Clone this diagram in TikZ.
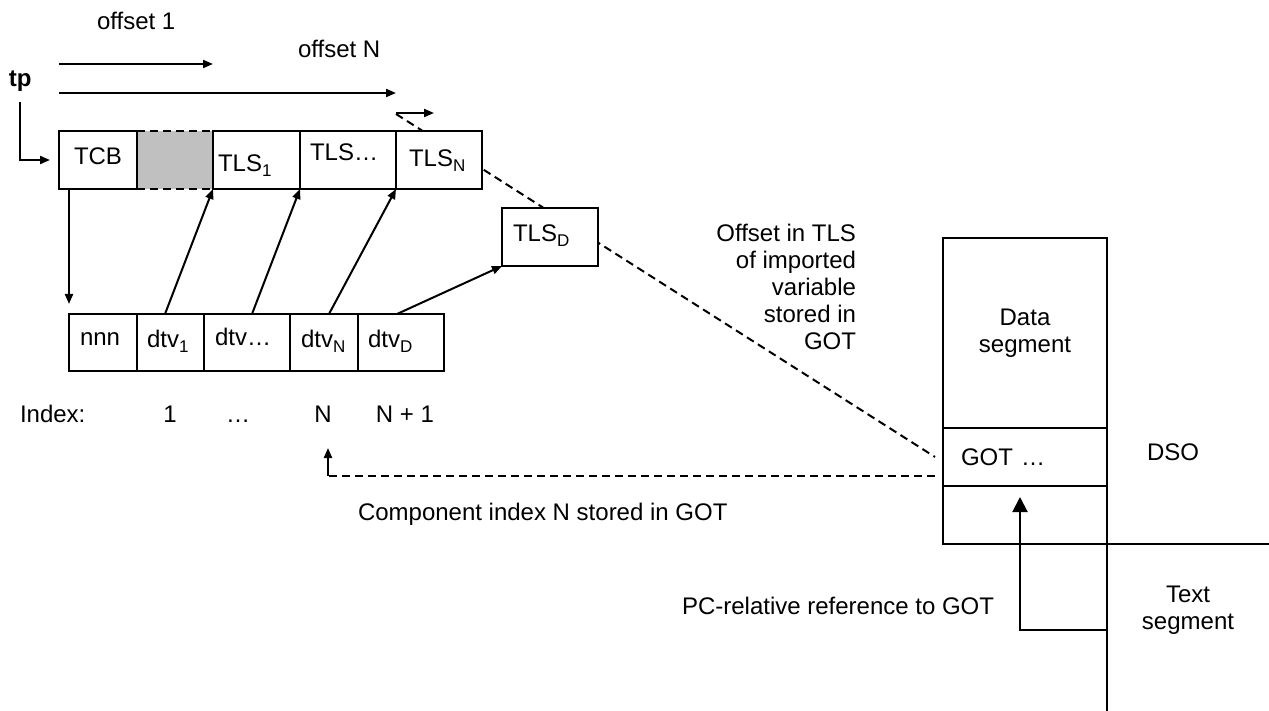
\documentclass[tikz,border=0pt]{standalone}
\usepackage{fontspec}
\setmainfont{Liberation Sans}
\usetikzlibrary{arrows.meta}
\newcommand\lsub[1]{\raisebox{-5pt}{\fontsize{17}{17}\selectfont #1}}
\newcommand\bigf{\fontsize{24}{27}\selectfont}
\newcommand\cellf{\fontsize{24}{27}\selectfont}
\definecolor{cellgray}{RGB}{192,192,192}
\begin{document}
\begin{tikzpicture}[x=1pt,y=-1pt,line width=2pt,
  every node/.style={outer sep=0pt},
  arr/.style={-{Triangle[length=10pt,width=8pt]}},
  bigarr/.style={-{Triangle[length=15pt,width=15pt]}},
  dsh/.style={dash pattern=on 8pt off 5pt},
  lbl/.style={inner sep=0pt,font=\bigf},
  cell/.style 2 args={draw,fill=white,inner ysep=0pt,inner xsep=#2pt,text width=#1pt,align=left,font=\cellf,text height=16pt,text depth=6pt,minimum height=58pt},
  seg/.style={draw,fill=white,inner sep=0pt,minimum width=164pt,font=\bigf,align=center},
]
\useasboundingbox (0,0) rectangle (1269,711);

% long dashed line (behind boxes)
\coordinate (dstart) at (396,114);
\coordinate (dend) at (935,457);
\draw[dsh] (dstart) -- (dend);

% TLS block row
\node[fill=cellgray,inner sep=0pt,minimum width=76pt,minimum height=58pt] (gray) at (175,160) {};
\draw[dsh] (gray.north west) -- (gray.north east);
\draw[dsh] (gray.south west) -- (gray.south east);
\node[cell={48}{15}] (TCB) at (98,160) {TCB};
\node[cell={77}{5}] (TLS1) at (256.5,160) {\raisebox{-7pt}{TLS\lsub{1}}};
\node[cell={76}{10}] (TLSd) at (348,160) {\raisebox{4pt}{TLS…}};
\node[cell={60}{13}] (TLSN) at (439,160) {\raisebox{-2pt}{TLS\lsub{N}}};
\node[cell={74}{11}] (TLSD) at (550,237) {TLS\lsub{D}};

% dtv row
\node[cell={46}{11},minimum height=57pt] (nnn) at (103,342.5) {\raisebox{2pt}{nnn}};
\node[cell={47}{10},minimum height=57pt] (dtv1) at (170.5,342.5) {dtv\lsub{1}};
\node[cell={64}{11},minimum height=57pt] (dtvd) at (247,342.5) {\raisebox{2pt}{dtv…}};
\node[cell={46}{11},minimum height=57pt] (dtvN) at (324,342.5) {dtv\lsub{N}};
\node[cell={66}{10},minimum height=57pt] (dtvD) at (401,342.5) {dtv\lsub{D}};

% offsets
\node[lbl,anchor=base west] (off1) at (97,30) {offset 1};
\node[lbl,anchor=base west] (offN) at (298,58) {offset N};
\coordinate (o1a) at (59,64);
\coordinate (o1b) at (213,64);
\coordinate (oNa) at (59,93);
\coordinate (oNb) at (396,93);
\draw[arr] (o1a) -- (o1b);
\draw[arr] (oNa) -- (oNb);
\coordinate (sa) at (396,113);
\coordinate (sb) at (434,113);
\draw[arr] (sa) -- (sb);

% tp
\node[lbl,anchor=base west,font=\bigf\bfseries] (tp) at (9,87) {tp};
\draw[arr,shorten <=10pt] (tp.south) |- ([xshift=-9pt]TCB.west);

% TCB -> nnn
\draw[arr] (nnn.north west |- TCB.south) -- ([yshift=10pt]nnn.north west);

% dtv -> TLS
\draw[arr] ([xshift=28pt]dtv1.north west) -- (TLS1.south west);
\draw[arr] ([xshift=48pt]dtvd.north west) -- (TLSd.south west);
\draw[arr] ([xshift=39pt]dtvN.north west) -- (TLSN.south west);
\draw[arr] ([xshift=39pt]dtvD.north west) -- (TLSD.south west);

% index labels
\node[lbl,anchor=base west] (idx) at (20,422) {Index:};
\node[lbl,anchor=base] (i1) at (170,422) {1};
\node[lbl,anchor=base] (idots) at (238,422) {…};
\node[lbl,anchor=base] (iN) at (323,422) {N};
\node[lbl,anchor=base] (iN1) at (405,422) {N + 1};

% offset text
\node[lbl,anchor=north east,align=right] (offtxt) at (856,224) {Offset in TLS\\of imported\\variable\\stored in\\GOT};

% DSO segments
\node[seg,minimum height=190pt] (data) at (1025,333) {Data\\segment};
\node[seg,minimum height=58pt,text width=128pt,inner xsep=18pt,align=left] (got) at (1025,457) {GOT …};
\node[seg,minimum height=58pt] (below) at (1025,515) {};
\coordinate (rightend) at (1269,544);
\coordinate (bottomend) at (1107,711);
\draw (below.south east) -- (rightend);
\draw (data.north east) -- (bottomend);
\node[lbl] (dso) at (1173,452) {DSO};
\node[lbl,align=center] (textseg) at (1188,610) {Text\\segment};

% PC-relative reference
\coordinate (pcstart) at (1107,630);
\coordinate (pctip) at (1020,497);
\draw[bigarr] (pcstart) -| (pctip);
\node[lbl,anchor=base west] (pctxt) at (682,614) {PC-relative reference to GOT};

% component index
\coordinate (cistart) at (935,476);
\coordinate (cicorner) at (328,476);
\coordinate (citip) at (328,448);
\draw[dsh] (cistart) -- (cicorner);
\draw[arr] (cicorner) -- (citip);
\node[lbl,anchor=base west] (citxt) at (358,520) {Component index N stored in GOT};
\end{tikzpicture}
\end{document}
